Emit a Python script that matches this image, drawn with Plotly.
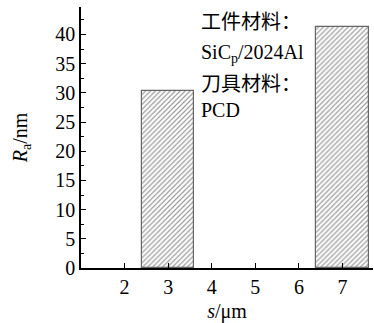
import plotly.graph_objects as go

s_um = [2, 3, 4, 5, 6, 7]
ra_nm = [None, 30.4, None, None, None, 41.3]
x_ticks = [2, 3, 4, 5, 6, 7]
y_ticks = [0, 5, 10, 15, 20, 25, 30, 35, 40]
note_lines = ["工件材料：", "SiC<sub>p</sub>/2024Al", "刀具材料：", "PCD"]

W, H = 374, 323
L, R, T, B = 81, 1, 7, 55
ph = H - T - B

fig = go.Figure()
fig.add_trace(go.Bar(
    x=s_um, y=ra_nm, width=1.2,
    marker=dict(color="white",
                line=dict(color="#666666", width=1.2),
                pattern=dict(shape="/", fgcolor="#333333", bgcolor="white",
                             size=3.5, solidity=0.35)),
    showlegend=False,
))

font_main = "Liberation Serif, Times New Roman, serif"
ys_px = [22, 54, 84, 110]
for txt, py in zip(note_lines, ys_px):
    fig.add_annotation(
        text=txt, xref="paper", yref="paper",
        x=(199 - L) / (W - L - R), y=(H - B - py) / ph,
        xanchor="left", yanchor="middle", showarrow=False,
        font=dict(family="Liberation Serif, Noto Sans CJK SC, serif", size=20, color="black"),
    )

fig.update_layout(
    width=W, height=H,
    margin=dict(l=L, r=R, t=T, b=B, autoexpand=False),
    paper_bgcolor="white", plot_bgcolor="white",
    font=dict(family=font_main, size=20, color="black"),
    bargap=0,
)
fig.update_xaxes(
    range=[1, 7.7], tickvals=x_ticks, ticktext=[str(v) for v in x_ticks],
    showline=True, linecolor="black", linewidth=1.5,
    ticks="inside", ticklen=5, tickcolor="black", tickwidth=1,
    showgrid=False, zeroline=False, automargin=False,
    title=dict(text="<i>s</i>/μm", standoff=13, font=dict(size=20)),
)
fig.update_yaxes(
    range=[0, 44.7], tickvals=y_ticks, ticktext=[str(v) for v in y_ticks],
    showline=True, linecolor="black", linewidth=1.5,
    ticks="inside", ticklen=5, tickcolor="black", tickwidth=1,
    minor=dict(dtick=2.5, tick0=0, ticks="inside", ticklen=3, tickcolor="black"),
    showgrid=False, zeroline=False, automargin=False,
    title=dict(text="<i>R</i><sub>a</sub>/nm", standoff=22, font=dict(size=20)),
)

fig.write_html("out.html")
